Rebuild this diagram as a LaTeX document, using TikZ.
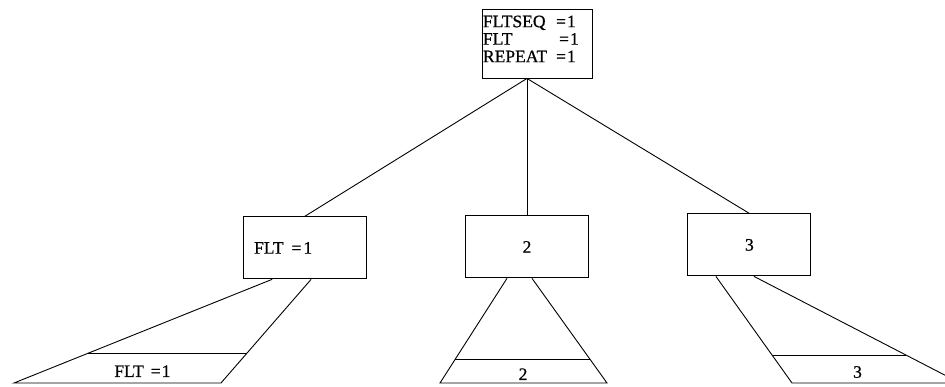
\documentclass[tikz,border=0pt]{standalone}
\usepackage{fontspec}
\setmainfont{Liberation Serif}[FakeBold=0.7]
\usetikzlibrary{positioning, calc}

\begin{document}
\begin{tikzpicture}[x=1pt, y=-1pt, line width=0.9pt,
		font=\fontsize{17.5}{17.5}\selectfont,
		box/.style={draw, minimum width=123pt, minimum height=62pt, inner sep=0pt}]
		\useasboundingbox (0,0) rectangle (945,387);
		\node[draw, minimum width=110pt, minimum height=69pt, inner xsep=1pt, inner ysep=2pt,
			text width=108pt, align=left, text height=31pt, text depth=27pt] (seq) at (537,43.5)
			{\begin{tabular}{@{}l@{\hspace{9pt}}l@{}}FLTSEQ&=\kern1pt1\\FLT&\hspace{3pt}=\kern1pt1\\REPEAT&=\kern1pt1\end{tabular}};
		\node[box, below left=138pt and 115pt of seq, align=left, text width=101pt, inner xsep=11pt] (flt) {FLT\hspace{8pt}=\kern2pt1};
		\node[box, below=137pt of seq, xshift=-10pt] (two) {2};
		\node[box, below right=135pt and 95pt of seq] (three) {3};
		\coordinate (fork) at (seq.south -| two.north);
		\foreach \to in {flt,two,three}
			\draw (fork) -- (\to.north);
		% the subtrees under each box
		\foreach \nm/\l/\r/\bl/\br/\t/\lab in {flt/-32.5/6.5/14/221/0.714/FLT\hspace{7pt}=\kern1pt1, two/-20/5/440/607/0.774/2, three/-33.5/4.5/792/960/0.738/3} {
			\coordinate (\nm-l) at ($(\nm.south)+(\l,0)$);
			\coordinate (\nm-r) at ($(\nm.south)+(\r,0)$);
			\coordinate (\nm-bl) at (\bl,383);
			\coordinate (\nm-br) at (\br,383);
			\coordinate (\nm-hl) at ($(\nm-l)!\t!(\nm-bl)$);
			\coordinate (\nm-hr) at ($(\nm-r)!\t!(\nm-br)$);
			\draw (\nm-l) -- (\nm-bl) -- (\nm-br) -- (\nm-r);
			\draw (\nm-hl) -- (\nm-hr);
			\coordinate (\nm-hm) at ($(\nm-hl)!.5!(\nm-hr)$);
			\coordinate (\nm-bm) at ($(\nm-bl)!.5!(\nm-br)$);
			\node[yshift=-3pt] (\nm-leaf) at ($(\nm-hm)!.5!(\nm-bm)$) {\lab};
		}
	\end{tikzpicture}
\end{document}
